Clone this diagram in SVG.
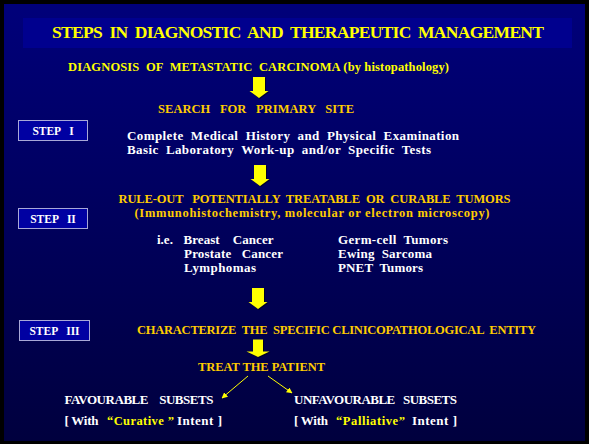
<svg xmlns="http://www.w3.org/2000/svg" width="589" height="444" viewBox="0 0 589 444">
  <defs>
    <linearGradient id="page" x1="0" y1="0" x2="0" y2="1">
      <stop offset="0" stop-color="#00007a"/>
      <stop offset="1" stop-color="#00003e"/>
    </linearGradient>
    <!-- block arrow, drawn from its top centre -->
    <path id="blk" d="M-6,0 H6 V14 H9.5 L0,21 L-9.5,14 H-6 Z"/>
    <path id="blkShort" d="M-5,0 H5 V12 H11.5 L0,17.5 L-11.5,12 H-5 Z"/>
    <marker id="tip" viewBox="0 0 10 10" refX="9" refY="5" markerWidth="6" markerHeight="6" orient="auto" markerUnits="userSpaceOnUse">
      <path d="M0,0 L10,5 L0,10 Z" fill="#ffff00"/>
    </marker>
    <style>
      text { font-family: "Liberation Serif", "Times New Roman", "DejaVu Serif", serif; font-weight: bold; white-space: pre; }
      .title { font-size: 17.5px; fill: #ffff00; }
      .yel { font-size: 12.5px; fill: #ffff00; }
      .gold { font-size: 12.5px; fill: #ffcc00; }
      .wht { font-size: 13px; fill: #ffffff; }
      .step rect { fill: #0000a2; stroke: #a8a8d8; stroke-width: 1; }
      .step text { font-size: 11.5px; fill: #ffffff; text-anchor: middle; }
      .arrow { fill: #ffff00; }
      .shadow { fill: #000000; opacity: 0.55; }
      .thin { stroke: #ffff00; stroke-width: 1; fill: none; marker-end: url(#tip); }
    </style>
  </defs>

  <!-- slide frame -->
  <rect x="0" y="0" width="589" height="444" fill="#000000"/>
  <rect x="4" y="4" width="581" height="437" fill="url(#page)"/>

  <g id="title">
    <rect x="23" y="18" width="549" height="30" fill="#00008e"/>
    <text class="title" x="52" y="37.5" textLength="492" lengthAdjust="spacing">STEPS  IN  DIAGNOSTIC  AND  THERAPEUTIC  MANAGEMENT</text>
  </g>

  <g id="diagnosis">
    <text class="yel" x="68" y="71" textLength="381" lengthAdjust="spacing">DIAGNOSIS  OF  METASTATIC  CARCINOMA (by histopathology)</text>
  </g>

  <g id="search">
    <text class="gold" x="158" y="112.5" textLength="196" lengthAdjust="spacing">SEARCH   FOR   PRIMARY   SITE</text>
  </g>

  <g id="step1" class="step">
    <rect x="18.5" y="120.5" width="69" height="20"/>
    <text x="53" y="135">STEP   I</text>
  </g>

  <g id="workup">
    <text class="wht" x="127" y="140" textLength="332" lengthAdjust="spacing">Complete  Medical  History  and  Physical  Examination</text>
    <text class="wht" x="127" y="154" textLength="304" lengthAdjust="spacing">Basic  Laboratory  Work-up  and/or  Specific  Tests</text>
  </g>

  <g id="ruleout">
    <text class="gold" x="118.5" y="203" textLength="392" lengthAdjust="spacing">RULE-OUT   POTENTIALLY  TREATABLE  OR  CURABLE  TUMORS</text>
    <text class="gold" x="134.5" y="217" textLength="355" lengthAdjust="spacing">(Immunohistochemistry, molecular or electron microscopy)</text>
  </g>

  <g id="step2" class="step">
    <rect x="18.5" y="208.5" width="69" height="20"/>
    <text x="53" y="223">STEP   II</text>
  </g>

  <g id="tumors">
    <text class="wht" x="157" y="244">i.e.</text>
    <text class="wht" x="183.5" y="244" textLength="90" lengthAdjust="spacing">Breast    Cancer</text>
    <text class="wht" x="184" y="258" textLength="99" lengthAdjust="spacing">Prostate   Cancer</text>
    <text class="wht" x="184" y="272" textLength="72" lengthAdjust="spacing">Lymphomas</text>
    <text class="wht" x="338" y="244" textLength="110" lengthAdjust="spacing">Germ-cell  Tumors</text>
    <text class="wht" x="338" y="258" textLength="94" lengthAdjust="spacing">Ewing  Sarcoma</text>
    <text class="wht" x="338" y="272" textLength="85" lengthAdjust="spacing">PNET  Tumors</text>
  </g>

  <g id="step3" class="step">
    <rect x="19.5" y="320.5" width="70" height="20"/>
    <text x="54.5" y="335">STEP   III</text>
  </g>

  <g id="characterize">
    <text class="gold" x="137" y="333.5" textLength="399" lengthAdjust="spacing">CHARACTERIZE  THE  SPECIFIC CLINICOPATHOLOGICAL  ENTITY</text>
  </g>

  <g id="treat">
    <text class="gold" x="198" y="370.5" textLength="127" lengthAdjust="spacing">TREAT THE PATIENT</text>
  </g>

  <g id="favourable">
    <text class="wht" x="64.5" y="404" textLength="149" lengthAdjust="spacing">FAVOURABLE    SUBSETS</text>
    <text class="wht" x="64.5" y="424.5" textLength="34" lengthAdjust="spacing">[ With</text>
    <text class="yel" x="107" y="424.5" textLength="67" lengthAdjust="spacing">“Curative ”</text>
    <text class="wht" x="177" y="424.5" textLength="45" lengthAdjust="spacing">Intent ]</text>
  </g>

  <g id="unfavourable">
    <text class="wht" x="294" y="404" textLength="163" lengthAdjust="spacing">UNFAVOURABLE   SUBSETS</text>
    <text class="wht" x="294" y="424.5" textLength="34" lengthAdjust="spacing">[ With</text>
    <text class="yel" x="336" y="424.5" textLength="69" lengthAdjust="spacing">“Palliative”</text>
    <text class="wht" x="412" y="424.5" textLength="45" lengthAdjust="spacing">Intent ]</text>
  </g>

  <g id="connectors">
    <use href="#blk" class="shadow" transform="translate(260,78)"/>
    <use href="#blk" class="arrow" transform="translate(259,77)"/>
    <use href="#blk" class="shadow" transform="translate(261,166)"/>
    <use href="#blk" class="arrow" transform="translate(260,165)"/>
    <use href="#blk" class="shadow" transform="translate(259,289)"/>
    <use href="#blk" class="arrow" transform="translate(258,288)"/>
    <use href="#blkShort" class="shadow" transform="translate(259,340.5)"/>
    <use href="#blkShort" class="arrow" transform="translate(258,339.5)"/>
    <line class="thin" x1="248" y1="376" x2="222" y2="398"/>
    <line class="thin" x1="268" y1="376" x2="292" y2="393"/>
  </g>
</svg>
